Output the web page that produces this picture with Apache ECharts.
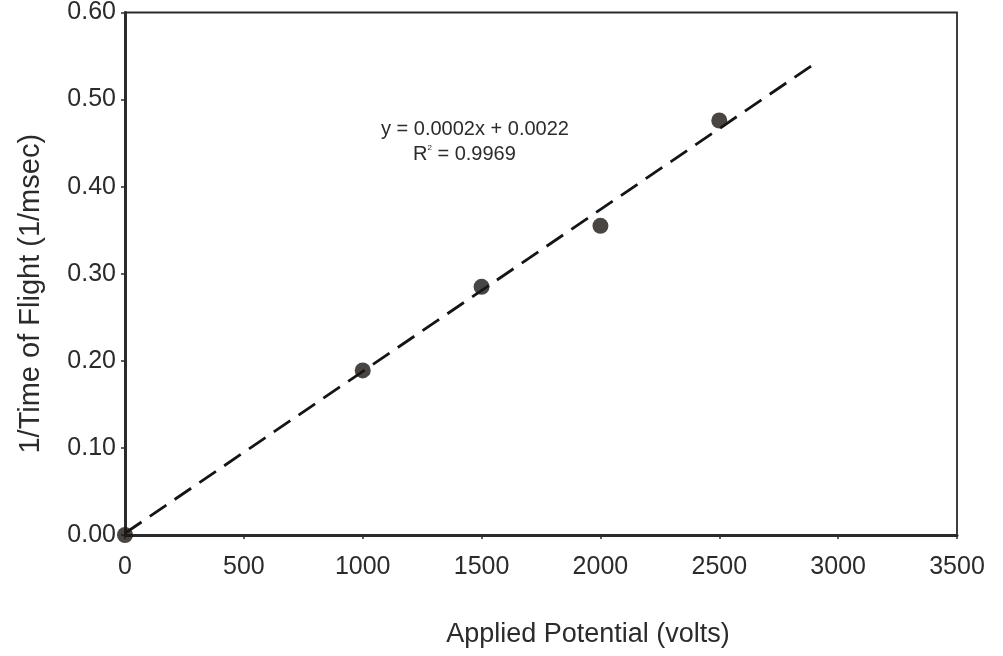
<!DOCTYPE html>
<html>
<head>
<meta charset="utf-8">
<script src="https://cdn.jsdelivr.net/npm/echarts@6/dist/echarts.min.js"></script>
<style>
html,body{margin:0;padding:0;background:#fff;}
#c{width:1003px;height:656px;}
</style>
</head>
<body>
<div id="c"></div>
<script>
const voltage = [0, 1000, 1500, 2000, 2500];
const invTof = [0.000, 0.189, 0.285, 0.355, 0.476];
const trendX = [0, 2900];
const trendY = [0.002, 0.541];
const xTitle = 'Applied Potential (volts)';
const yTitle = '1/Time of Flight (1/msec)';
const eqLine1 = 'y = 0.0002x + 0.0022';
const eqLine2 = '= 0.9969';

const font = '"Liberation Sans", Arial, sans-serif';
const ink = '#2b2b2b';

const chart = echarts.init(document.getElementById('c'), null, {renderer: 'canvas'});
chart.setOption({
  backgroundColor: '#ffffff',
  animation: false,
  grid: {left: 125, right: 46, top: 11, bottom: 121, show: true, borderColor: ink, borderWidth: 1.8, backgroundColor: 'transparent'},
  xAxis: {
    type: 'value', min: 0, max: 3500, interval: 500,
    name: xTitle, nameLocation: 'middle', nameGap: 86,
    nameTextStyle: {fontFamily: font, fontSize: 27, color: ink, padding: [0, 0, 0, 94]},
    axisLine: {show: true, lineStyle: {color: ink, width: 3}},
    axisTick: {show: true, inside: false, length: 4, lineStyle: {color: ink, width: 1.5}},
    axisLabel: {fontFamily: font, fontSize: 25, color: ink, margin: 20, formatter: v => String(v)},
    splitLine: {show: false}
  },
  yAxis: {
    type: 'value', min: 0, max: 0.6, interval: 0.1,
    name: yTitle, nameLocation: 'middle', nameGap: 80,
    nameTextStyle: {fontFamily: font, fontSize: 29, color: ink, padding: [0, 40, 0, 0]},
    axisLine: {show: true, lineStyle: {color: ink, width: 3}},
    axisTick: {show: true, inside: false, length: 4, lineStyle: {color: ink, width: 1.5}},
    axisLabel: {fontFamily: font, fontSize: 25, color: ink, margin: 9, formatter: v => v.toFixed(2)},
    splitLine: {show: false}
  },
  series: [
    {
      type: 'line',
      data: trendX.map((x, i) => [x, trendY[i]]),
      showSymbol: false,
      lineStyle: {color: '#151515', width: 2.8, type: [20, 10]},
      z: 2
    },
    {
      type: 'scatter',
      data: voltage.map((x, i) => [x, invTof[i]]),
      symbol: 'circle',
      symbolSize: 16,
      itemStyle: {color: '#1a1613'},
      z: 3
    }
  ],
  graphic: [
    {type: 'text', left: 381, top: 119, style: {text: eqLine1, font: '20px ' + font, fill: ink}},
    {type: 'text', left: 413, top: 144, style: {
      text: '{r|R}{s|2}{r| ' + eqLine2 + '}',
      rich: {
        r: {font: '20px ' + font, fill: ink, color: ink},
        s: {font: '8px ' + font, fill: ink, color: ink, verticalAlign: 'top', padding: [0, 0, 11, 0]}
      }
    }}
  ]
});
</script>
</body>
</html>
